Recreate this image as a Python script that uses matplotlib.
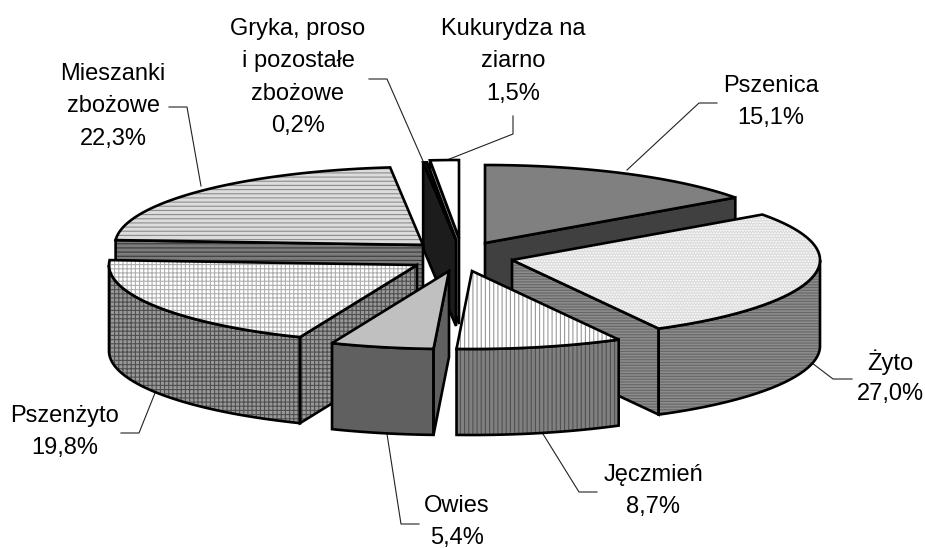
import numpy as np
import matplotlib
matplotlib.use("Agg")
import matplotlib.pyplot as plt
from matplotlib.patches import Polygon

plt.rcParams['font.family'] = ['Liberation Sans', 'DejaVu Sans']
plt.rcParams['hatch.linewidth'] = 0.8

# Data
names = ["Pszenica", "Żyto", "Jęczmień", "Owies", "Pszenżyto",
         "Mieszanki\nzbożowe", "Gryka, proso\ni pozostałe\nzbożowe", "Kukurydza na\nziarno"]
shares = [15.1, 27.0, 8.7, 5.4, 19.8, 22.3, 0.2, 1.5]
share_labels = ["15,1%", "27,0%", "8,7%", "5,4%", "19,8%", "22,3%", "0,2%", "1,5%"]

# Exploded apex of each slice (pixels)
apex_x = [485, 512, 472, 449, 417, 423, 456, 459]
apex_y = [243, 260, 271, 271, 265, 245, 240, 238]

# Look of each slice
top_col = ["#808080", "#dcdcdc", "#ffffff", "#c0c0c0", "#ffffff", "#dcdcdc", "#1c1c1c", "#ffffff"]
top_hc = [None, "#ffffff", "#999999", None, "#b0b0b0", "#8c8c8c", None, None]
top_hatch = [None, "......", "||||", None, "++++", "----", None, None]
side_col = ["#404040", "#8c8c8c", "#808080", "#606060", "#999999", "#7c7c7c", "#1c1c1c", "#808080"]
side_hc = [None, "#666666", "#505050", None, "#505050", "#383838", None, None]
side_hatch = [None, "------", "||||", None, "++++", "----", None, None]

A = 308   # semi axes of the top ellipse
B = 78
DEPTH = 86

# Leader lines
leaders = [
    [(717, 103), (699, 103), (627, 170)],
    [(852, 379), (833, 379), (812, 363)],
    [(597, 492), (579, 492), (543, 434)],
    [(419, 524), (401, 524), (387, 434)],
    [(121, 433), (139, 433), (155, 393)],
    [(169, 107), (187, 107), (201, 186)],
    [(369, 79), (387, 79), (423, 161)],
    [(513, 116), (513, 134), (447, 160)],
]
label_x = [771, 890, 653, 457, 65, 113, 298, 513]
label_y = [86, 362, 475, 506, 416, 74, 29, 29]

fig = plt.figure(figsize=(9.25, 5.48), dpi=100)
ax = fig.add_axes([0, 0, 1, 1])
ax.set_xlim(0, 925)
ax.set_ylim(548, 0)
ax.axis("off")


def face(pts, col, hcol, hatch, z):
    pts = np.array(pts)
    if hatch:
        ax.add_patch(Polygon(pts, closed=True, facecolor=col, edgecolor=hcol, hatch=hatch, lw=0, zorder=z))
    else:
        ax.add_patch(Polygon(pts, closed=True, facecolor=col, edgecolor="none", zorder=z))
    ax.add_patch(Polygon(pts, closed=True, facecolor="none", edgecolor="black", lw=1.9,
                         joinstyle="miter", zorder=z + 0.1))


def rim(x0, y0, th):
    return np.column_stack([x0 + A * np.sin(th), y0 - B * np.cos(th)])


edges = np.radians(np.concatenate([[0], np.cumsum(shares)]) * 3.6)
# paint back to front
order = [0, 7, 6, 5, 1, 4, 2, 3]
for n, i in enumerate(order):
    z = 2 + n
    x0, y0 = apex_x[i], apex_y[i]
    t0, t1 = edges[i], edges[i + 1]
    th = np.linspace(t0, t1, 80)
    arc = rim(x0, y0, th)
    drop = np.array([0, DEPTH])
    apex = np.array([x0, y0])

    # radial walls, only those turned towards the viewer
    if t0 > np.pi:
        face([apex, arc[0], arc[0] + drop, apex + drop], side_col[i], side_hc[i], side_hatch[i], z)
    if t1 < np.pi:
        face([apex, arc[-1], arc[-1] + drop, apex + drop], side_col[i], side_hc[i], side_hatch[i], z)
    # curved outer wall, only the front half of the ellipse shows
    lo, hi = max(t0, np.pi / 2), min(t1, 3 * np.pi / 2)
    if lo < hi:
        front = rim(x0, y0, np.linspace(lo, hi, 80))
        face(np.vstack([front, (front + drop)[::-1]]), side_col[i], side_hc[i], side_hatch[i], z)
    # top face
    face(np.vstack([[apex], arc]), top_col[i], top_hc[i], top_hatch[i], z + 0.5)

for pts in leaders:
    pts = np.array(pts)
    ax.plot(pts[:, 0], pts[:, 1], color="#222222", lw=0.8, zorder=1)

for name, lab, lx, ly in zip(names, share_labels, label_x, label_y):
    lines = name.split("\n") + [lab]
    for k, line in enumerate(lines):
        ax.text(lx, ly + k * 32.3, line, ha="center", va="center", fontsize=17, color="black", zorder=20)

fig.savefig("out.png", dpi=100)
